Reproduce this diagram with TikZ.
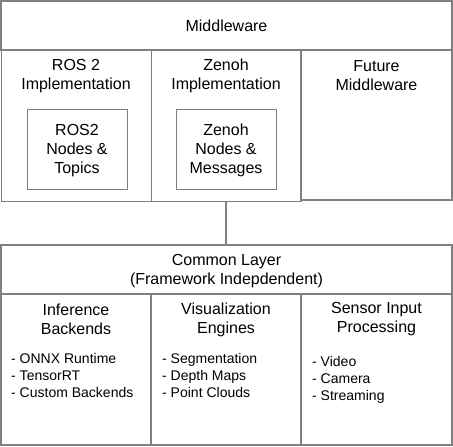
\documentclass[tikz,border=0pt]{standalone}
\usepackage{fontspec}
\setmainfont{Liberation Sans}
\definecolor{linegray}{HTML}{808080}
\tikzset{
  box/.style={rectangle,draw=linegray,line width=1pt,inner sep=0pt,outer sep=0pt},
  heavybox/.style={box,line width=2pt},
  title/.style={align=center,font=\fontsize{16}{19}\selectfont,inner sep=0pt},
  items/.style={align=left,anchor=west,font=\fontsize{14}{17}\selectfont,inner sep=0pt},
}

\begin{document}
\begin{tikzpicture}[x=1pt,y=-1pt]
\useasboundingbox (0,0) rectangle (453,447);
% middleware layer
\node[heavybox,title,minimum width=451pt,minimum height=49pt] (mw) at (226.5,25.5) {Middleware};
\node[box,minimum width=150pt,minimum height=151pt] (ros) at (76,125.5) {};
\node[box,minimum width=150pt,minimum height=151pt] (zenoh) at (226,125.5) {};
\node[heavybox,minimum width=151pt,minimum height=150pt] (future) at (376.5,125) {};
\node[title] (rostitle) at (76,76) {ROS 2\\Implementation};
\node[title] (zenohtitle) at (226,76) {Zenoh\\Implementation};
\node[title] (futuretitle) at (376.5,76) {Future\\Middleware};
\node[box,minimum width=100pt,minimum height=80pt] (rosnodes) at (77,149) {};
\node[box,minimum width=100pt,minimum height=80pt] (zenohnodes) at (226,149) {};
\node[title] (rostext) at (77,150.5) {ROS2\\Nodes \&\\Topics};
\node[title] (zenohtext) at (226,150.5) {Zenoh\\Nodes \&\\Messages};
% common layer
\node[heavybox,minimum width=451pt,minimum height=49pt] (common) at (226.5,269.5) {};
\node[title] (commontext) at (226.5,271.5) {Common Layer\\(Framework Indepdendent)};
\node[heavybox,minimum width=150pt,minimum height=151pt] (infer) at (76,369.5) {};
\node[heavybox,minimum width=150pt,minimum height=151pt] (vis) at (226,369.5) {};
\node[heavybox,minimum width=151pt,minimum height=151pt] (sensor) at (376.5,369.5) {};
\node[title] (infertitle) at (76,319.5) {Inference\\Backends};
\node[title] (vistitle) at (226,319.5) {Visualization\\Engines};
\node[title] (sensortitle) at (376.5,319.5) {Sensor Input\\Processing};
\node[items] (inferlist) at (11,375.5) {- ONNX Runtime\\- TensorRT\\- Custom Backends};
\node[items] (vislist) at (162,375.5) {- Segmentation\\- Depth Maps\\- Point Clouds};
\node[items] (sensorlist) at (312,380) {- Video\\- Camera\\- Streaming};
\draw[linegray,line width=2pt] (zenoh.south) -- (zenoh.south |- common.north);
\end{tikzpicture}
\end{document}
